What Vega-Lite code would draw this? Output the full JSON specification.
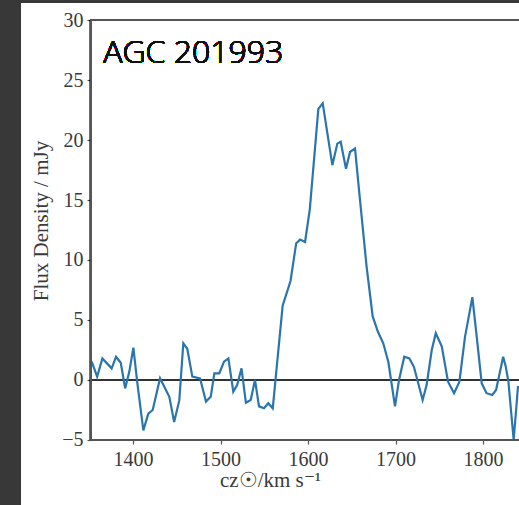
{
  "$schema": "https://vega.github.io/schema/vega-lite/v6.json",
  "width": 498,
  "height": 502,
  "autosize": {"type": "none"},
  "padding": {"left": 21, "top": 3, "right": 0, "bottom": 0},
  "background": "#383838",
  "config": {
    "view": {"fill": "white", "stroke": null},
    "axis": {"grid": false, "labelFont": "Liberation Serif", "titleFont": "Liberation Serif", "labelColor": "#3a3a3a", "titleColor": "#3a3a3a", "labelFontSize": 20, "titleFontSize": 21, "titleFontWeight": "normal", "tickColor": "#555", "tickWidth": 1.2, "tickSize": 4}
  },
  "data": {
    "values": [
      {"v": 1352.8, "f": 1.53}, {"v": 1359, "f": 0.28}, {"v": 1365, "f": 1.8}, {"v": 1375.6, "f": 0.97},
      {"v": 1380.6, "f": 1.94}, {"v": 1386, "f": 1.44}, {"v": 1391, "f": -0.7}, {"v": 1395.8, "f": 0.7},
      {"v": 1400.4, "f": 2.7}, {"v": 1405, "f": -0.28}, {"v": 1411.8, "f": -4.2}, {"v": 1417.5, "f": -2.8},
      {"v": 1422.5, "f": -2.5}, {"v": 1430.9, "f": 0.14}, {"v": 1441.5, "f": -1.4}, {"v": 1447, "f": -3.5},
      {"v": 1452.9, "f": -1.7}, {"v": 1457.5, "f": 3.06}, {"v": 1462, "f": 2.6}, {"v": 1467.8, "f": 0.28},
      {"v": 1476.6, "f": 0.14}, {"v": 1483.4, "f": -1.8}, {"v": 1488.8, "f": -1.4}, {"v": 1493, "f": 0.56},
      {"v": 1498.6, "f": 0.56}, {"v": 1504, "f": 1.53}, {"v": 1509, "f": 1.8}, {"v": 1514.6, "f": -0.97},
      {"v": 1519, "f": -0.42}, {"v": 1524, "f": 0.97}, {"v": 1529, "f": -1.9}, {"v": 1534.5, "f": -1.67},
      {"v": 1539.4, "f": 0.0}, {"v": 1544, "f": -2.2}, {"v": 1549.7, "f": -2.36}, {"v": 1554.6, "f": -1.94},
      {"v": 1559.7, "f": -2.36}, {"v": 1571, "f": 6.2}, {"v": 1580, "f": 8.25}, {"v": 1586.5, "f": 11.4},
      {"v": 1591, "f": 11.7}, {"v": 1596.6, "f": 11.5}, {"v": 1602, "f": 14.2}, {"v": 1611.8, "f": 22.6},
      {"v": 1616.8, "f": 23.06}, {"v": 1627.8, "f": 17.9}, {"v": 1633.5, "f": 19.7}, {"v": 1637.3, "f": 19.86},
      {"v": 1643.4, "f": 17.6}, {"v": 1648, "f": 19.0}, {"v": 1653.7, "f": 19.3}, {"v": 1659, "f": 15.3},
      {"v": 1667, "f": 9.4}, {"v": 1673.9, "f": 5.3}, {"v": 1680, "f": 4.0}, {"v": 1686, "f": 3.06},
      {"v": 1691.8, "f": 1.5}, {"v": 1699.4, "f": -2.2}, {"v": 1704, "f": 0.0}, {"v": 1710, "f": 1.94},
      {"v": 1715.8, "f": 1.8}, {"v": 1721, "f": 1.1}, {"v": 1731, "f": -1.67}, {"v": 1735.5, "f": -0.42},
      {"v": 1741.4, "f": 2.5}, {"v": 1746, "f": 3.9}, {"v": 1752.8, "f": 2.8}, {"v": 1760, "f": -0.14},
      {"v": 1766.9, "f": -1.1}, {"v": 1773, "f": -0.14}, {"v": 1779.4, "f": 3.6}, {"v": 1787.8, "f": 6.9},
      {"v": 1792.8, "f": 3.6}, {"v": 1798.5, "f": -0.28}, {"v": 1804, "f": -1.1}, {"v": 1810.6, "f": -1.25},
      {"v": 1814.9, "f": -0.83}, {"v": 1823, "f": 1.94}, {"v": 1826, "f": 1.1}, {"v": 1829, "f": -0.14},
      {"v": 1835, "f": -5.0}, {"v": 1840, "f": -0.5}
    ]
  },
  "encoding": {
    "x": {"field": "v", "type": "quantitative", "scale": {"domain": [1272, 1841.1], "nice": false, "zero": false},
      "axis": {"values": [1400, 1500, 1600, 1700, 1800], "format": "d", "offset": -65, "domain": false, "labelPadding": 5, "title": "cz☉/km s⁻¹", "titlePadding": 0}},
    "y": {"field": "f", "type": "quantitative", "scale": {"domain": [-10.417, 31.417], "nice": false, "zero": false},
      "axis": {"values": [-5, 0, 5, 10, 15, 20, 25, 30], "offset": -70, "domain": false, "labelPadding": 4, "title": "Flux Density / mJy", "titleY": 217.5, "titlePadding": 10}}
  },
  "layer": [
    {"mark": {"type": "rule", "color": "#333", "strokeWidth": 1.5}, "encoding": {"x": {"datum": 1351.7}, "x2": {"datum": 1841.1}, "y": {"datum": 0}}},
    {"mark": {"type": "line", "color": "#2a75ad", "strokeWidth": 2.2, "interpolate": "linear"}},
    {"mark": {"type": "rule", "color": "#555", "strokeWidth": 1.5}, "encoding": {"x": {"datum": 1351.7}, "y": {"datum": -5}, "y2": {"datum": 30}}},
    {"mark": {"type": "rule", "color": "#555", "strokeWidth": 1.5}, "encoding": {"x": {"datum": 1351.7}, "x2": {"datum": 1841.1}, "y": {"datum": -5}}},
    {"mark": {"type": "rule", "color": "#555", "strokeWidth": 1.5}, "encoding": {"x": {"datum": 1351.7}, "x2": {"datum": 1841.1}, "y": {"datum": 30}}},
    {"mark": {"type": "text", "font": "Open Sans", "fontSize": 32, "fontWeight": 300, "fill": "#111", "stroke": null, "align": "left", "baseline": "alphabetic"},
      "encoding": {"x": {"datum": 1366}, "y": {"datum": 26.39}, "text": {"value": "AGC 201993"}}}
  ]
}
